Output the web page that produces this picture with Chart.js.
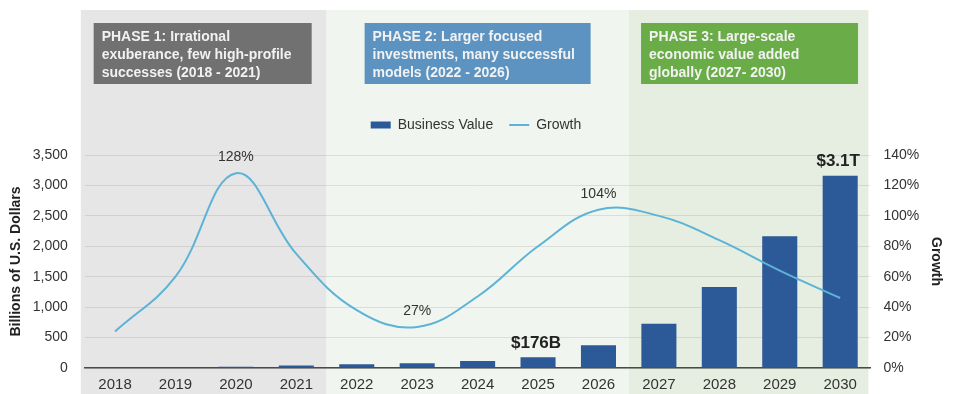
<!DOCTYPE html>
<html>
<head>
  <script src="https://cdn.jsdelivr.net/npm/chart.js"></script>
  <title>AI Business Value and Growth</title>
  <style>
    body { margin: 0; background: #fff; }
    #wrap { width: 953px; height: 394px; position: relative; }
  </style>
</head>
<body>
<div id="wrap"><canvas id="myChart"></canvas></div>
<script>
  /** data **/
  const years = ['2018', '2019', '2020', '2021', '2022', '2023', '2024', '2025', '2026', '2027', '2028', '2029', '2030'];
  const businessValue = [0, 0, 20, 40, 60, 80, 115, 176, 373, 729, 1332, 2166, 3160]; // billions USD
  const growth = [24, 60, 128, 75, 38, 27, 47, 80, 104, 100, 84, 64, 46]; // percent

  const growthCallouts = [['2020', '128%'], ['2023', '27%'], ['2026', '104%']];
  const valueCallouts = [['2025', '$176B'], ['2030', '$3.1T']];

  const phaseTitles = [
    ['PHASE 1: Irrational', 'exuberance, few high-profile', 'successes (2018 - 2021)'],
    ['PHASE 2: Larger focused', 'investments, many successful', 'models (2022 - 2026)'],
    ['PHASE 3: Large-scale', 'economic value added', 'globally (2027- 2030)']
  ];
  const phaseYears = [['2018', '2021'], ['2022', '2026'], ['2027', '2030']];

  // styles
  const bandColors = ['#e6e6e6', '#f0f5ef', '#e5eee0'];
  const boxColors = ['#717171', '#5d93c1', '#6aad48'];
  const boxLayout = [{ c: 1.45, w: 218 }, { c: 6, w: 226 }, { c: 10.5, w: 217 }];
  const FONT = '"Liberation Sans", Arial, sans-serif';

  /** backgrounds + phase boxes **/
  const phasePlugin = {
    id: 'phases',
    beforeDraw(chart) {
      const { ctx, scales: { x } } = chart;
      const step = x.getPixelForValue(1) - x.getPixelForValue(0);
      ctx.save();
      ctx.fillStyle = '#fff';
      ctx.fillRect(0, 0, chart.width, chart.height);
      phaseYears.forEach((p, i) => {
        let left = x.getPixelForValue(years.indexOf(p[0])) - step / 2;
        let right = x.getPixelForValue(years.indexOf(p[1])) + step / 2;
        if (i === 0) left -= 4;
        if (i === 2) right -= 2;
        ctx.fillStyle = bandColors[i];
        ctx.fillRect(left, 10, right - left, chart.height - 10);
      });
      phaseTitles.forEach((lines, i) => {
        const cx = x.getPixelForValue(0) + boxLayout[i].c * step;
        const w = boxLayout[i].w;
        const bx = cx - w / 2;
        ctx.fillStyle = boxColors[i];
        ctx.fillRect(bx, 23, w, 61);
        ctx.fillStyle = '#f2f2f2';
        ctx.font = 'bold 14px ' + FONT;
        ctx.textBaseline = 'middle';
        ctx.textAlign = 'left';
        lines.forEach((t, j) => ctx.fillText(t, bx + 8, 37 + j * 18));
      });
      ctx.restore();
    }
  };

  /** callout labels **/
  const calloutPlugin = {
    id: 'callouts',
    afterDatasetsDraw(chart) {
      const { ctx, scales: { x, y, y1 } } = chart;
      ctx.save();
      ctx.textAlign = 'center';
      ctx.textBaseline = 'middle';
      ctx.fillStyle = '#333';
      ctx.font = '14px ' + FONT;
      growthCallouts.forEach(([yr, txt]) => {
        const i = years.indexOf(yr);
        ctx.fillText(txt, x.getPixelForValue(i), y1.getPixelForValue(growth[i]) - 16);
      });
      ctx.fillStyle = '#222';
      ctx.font = 'bold 17px ' + FONT;
      valueCallouts.forEach(([yr, txt]) => {
        const i = years.indexOf(yr);
        ctx.fillText(txt, x.getPixelForValue(i) - 2, y.getPixelForValue(businessValue[i]) - 14);
      });
      ctx.restore();
    }
  };

  const legendSpacing = {
    id: 'legendSpacing',
    beforeInit(chart) {
      const fit = chart.legend.fit;
      chart.legend.fit = function () {
        fit.bind(chart.legend)();
        this.height = 53;
      };
    }
  };

  const ctx = document.getElementById('myChart').getContext('2d');
  const chart = new Chart(ctx, {
    data: {
      labels: years,
      datasets: [{
        type: 'bar',
        label: 'Business Value',
        data: businessValue,
        backgroundColor: '#2c5997',
        borderWidth: 0,
        barPercentage: 0.58,
        categoryPercentage: 1,
        pointStyle: 'rect',
        yAxisID: 'y',
        order: 2
      }, {
        type: 'line',
        label: 'Growth',
        data: growth,
        borderColor: '#5cb3d7',
        borderWidth: 2,
        pointRadius: 0,
        tension: 0.4,
        pointStyle: 'line',
        yAxisID: 'y1',
        order: 1
      }]
    },
    options: {
      responsive: true,
      maintainAspectRatio: false,
      animation: false,
      layout: { padding: { top: 102, left: 4, right: 5, bottom: -8 } },
      plugins: {
        legend: {
          position: 'top',
          labels: {
            usePointStyle: true,
            pointStyleWidth: 20,
            boxHeight: 7,
            padding: 16,
            color: '#333',
            font: { family: FONT, size: 14 },
            sort: (a, b) => a.datasetIndex - b.datasetIndex
          }
        },
        tooltip: { enabled: false }
      },
      scales: {
        x: {
          grid: { display: false, drawTicks: false },
          border: { color: '#4a4a4a', width: 1.5 },
          ticks: { color: '#333', padding: 8, font: { family: FONT, size: 15 } }
        },
        y: {
          position: 'left',
          min: 0,
          max: 3500,
          ticks: {
            stepSize: 500,
            padding: 4,
            color: '#333',
            font: { family: FONT, size: 14 },
            callback: v => v.toLocaleString('en-US')
          },
          grid: { color: 'rgba(0,0,0,0.09)', tickLength: 13, tickColor: 'transparent' },
          border: { display: false },
          title: {
            display: true,
            text: 'Billions of U.S. Dollars',
            color: '#222',
            font: { family: FONT, size: 14, weight: 'bold' }
          }
        },
        y1: {
          position: 'right',
          min: 0,
          max: 140,
          ticks: {
            stepSize: 20,
            padding: 4,
            color: '#333',
            font: { family: FONT, size: 14 },
            callback: v => v + '%'
          },
          grid: { display: false, tickLength: 9 },
          border: { display: false },
          title: {
            display: true,
            text: 'Growth',
            color: '#222',
            font: { family: FONT, size: 14, weight: 'bold' }
          }
        }
      }
    },
    plugins: [phasePlugin, calloutPlugin, legendSpacing]
  });
</script>
</body>
</html>
